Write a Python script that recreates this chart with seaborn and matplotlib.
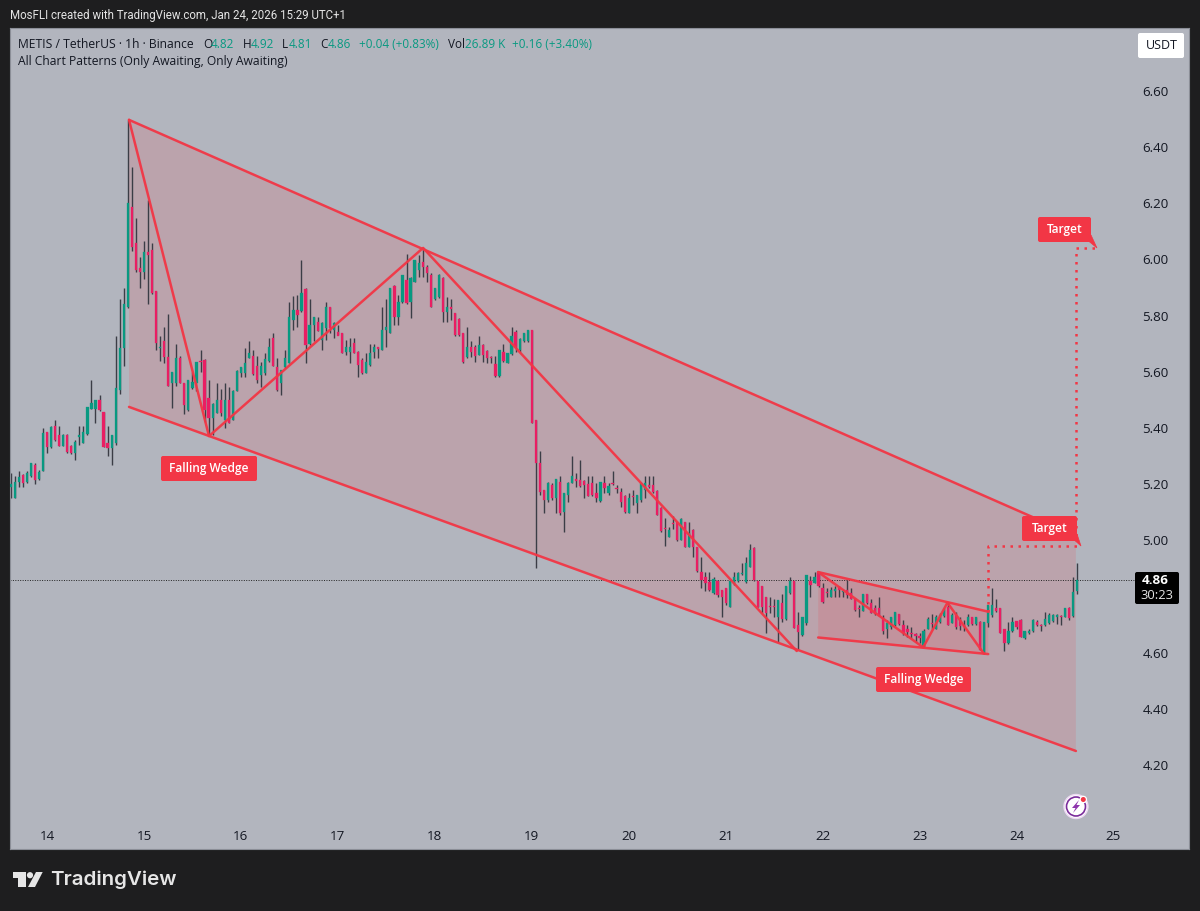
import numpy as np
import seaborn as sns
import matplotlib.pyplot as plt
from matplotlib.patches import FancyBboxPatch, Polygon, Circle

# hourly candles, first one is 9 hours before the 14th
first_hour = -9
opens = [
    5.190,5.150,5.209,5.233,5.209,5.229,5.268,5.217,5.248,5.384,
    5.331,5.407,5.375,5.336,5.375,5.336,5.310,5.369,5.348,5.379,
    5.469,5.469,5.498,5.457,5.348,5.328,5.346,5.536,5.686,5.832,
    6.186,6.058,5.969,5.957,6.028,6.032,5.886,5.684,5.711,5.654,
    5.559,5.559,5.648,5.559,5.464,5.541,5.559,5.640,5.642,5.506,
    5.435,5.452,5.498,5.429,5.500,5.429,5.533,5.595,5.595,5.648,
    5.657,5.619,5.589,5.595,5.640,5.720,5.616,5.559,5.616,5.633,
    5.785,5.820,5.817,5.894,5.699,5.767,5.779,5.713,5.755,5.830,
    5.749,5.743,5.737,5.672,5.672,5.701,5.672,5.642,5.597,5.624,
    5.672,5.687,5.678,5.749,5.737,5.906,5.796,5.850,5.927,5.850,
    5.921,5.963,5.992,5.974,5.945,5.858,5.868,5.933,5.814,5.830,
    5.808,5.787,5.737,5.652,5.687,5.687,5.660,5.695,5.675,5.654,
    5.628,5.585,5.672,5.633,5.663,5.743,5.678,5.711,5.711,5.749,
    5.428,5.274,5.179,5.144,5.197,5.150,5.209,5.102,5.161,5.203,
    5.217,5.215,5.212,5.200,5.205,5.170,5.140,5.203,5.170,5.205,
    5.187,5.173,5.159,5.098,5.158,5.132,5.144,5.179,5.196,5.197,
    5.177,5.114,5.045,5.013,5.063,5.064,5.001,5.066,4.977,5.037,
    4.975,4.886,4.871,4.853,4.811,4.856,4.823,4.829,4.764,4.844,
    4.856,4.880,4.853,4.906,4.971,4.856,4.838,4.797,4.766,4.766,
    4.728,4.776,4.719,4.811,4.856,4.698,4.663,4.704,4.856,4.847,
    4.888,4.829,4.816,4.799,4.821,4.833,4.815,4.823,4.813,4.790,
    4.760,4.749,4.808,4.776,4.758,4.758,4.722,4.683,4.692,4.698,
    4.738,4.698,4.686,4.671,4.665,4.660,4.621,4.686,4.707,4.686,
    4.710,4.730,4.764,4.707,4.734,4.716,4.697,4.698,4.726,4.702,
    4.710,4.600,4.707,4.734,4.758,4.758,4.683,4.633,4.677,4.714,
    4.716,4.651,4.671,4.678,4.710,4.698,4.697,4.704,4.714,4.726,
    4.732,4.726,4.758,4.730,4.820,
]
highs = [
    5.240,5.229,5.248,5.236,5.248,5.277,5.274,5.251,5.399,5.387,
    5.407,5.429,5.407,5.379,5.379,5.340,5.357,5.407,5.407,5.476,
    5.569,5.500,5.518,5.458,5.407,5.375,5.728,5.858,5.898,6.497,
    6.328,6.147,6.010,6.067,6.212,6.058,5.886,5.728,5.759,5.806,
    5.598,5.699,5.657,5.559,5.571,5.598,5.636,5.676,5.645,5.569,
    5.488,5.559,5.538,5.559,5.547,5.536,5.607,5.616,5.684,5.708,
    5.678,5.657,5.636,5.666,5.720,5.737,5.648,5.606,5.678,5.850,
    5.870,5.874,5.998,5.897,5.859,5.796,5.796,5.779,5.850,5.830,
    5.779,5.767,5.737,5.713,5.719,5.719,5.675,5.648,5.666,5.699,
    5.699,5.690,5.830,5.859,5.897,5.909,5.874,5.945,6.020,5.939,
    5.998,6.016,6.036,5.980,5.951,5.897,5.948,5.939,5.868,5.859,
    5.808,5.790,5.737,5.758,5.711,5.695,5.728,5.699,5.678,5.656,
    5.656,5.678,5.699,5.668,5.758,5.749,5.719,5.739,5.749,5.749,
    5.428,5.319,5.179,5.209,5.203,5.217,5.229,5.167,5.209,5.300,
    5.238,5.286,5.215,5.229,5.229,5.203,5.209,5.229,5.205,5.248,
    5.197,5.185,5.161,5.167,5.179,5.161,5.205,5.229,5.229,5.229,
    5.179,5.117,5.078,5.046,5.087,5.066,5.078,5.066,5.066,5.039,
    4.977,4.939,4.888,4.888,4.868,4.859,4.823,4.829,4.856,4.888,
    4.888,4.920,4.939,4.987,4.977,4.856,4.838,4.799,4.799,4.790,
    4.787,4.809,4.838,4.868,4.856,4.746,4.726,4.876,4.873,4.888,
    4.888,4.847,4.829,4.833,4.837,4.837,4.825,4.859,4.829,4.793,
    4.770,4.809,4.809,4.790,4.770,4.799,4.734,4.716,4.728,4.746,
    4.738,4.716,4.698,4.692,4.669,4.669,4.686,4.728,4.738,4.734,
    4.740,4.758,4.781,4.740,4.746,4.728,4.716,4.738,4.728,4.728,
    4.714,4.710,4.770,4.829,4.790,4.758,4.686,4.710,4.728,4.714,
    4.719,4.678,4.683,4.719,4.716,4.702,4.746,4.740,4.738,4.738,
    4.734,4.758,4.761,4.868,4.920,
]
lows = [
    5.150,5.150,5.191,5.191,5.203,5.227,5.201,5.215,5.248,5.310,
    5.328,5.352,5.336,5.336,5.310,5.308,5.286,5.340,5.346,5.375,
    5.467,5.419,5.462,5.331,5.300,5.268,5.340,5.521,5.619,5.826,
    6.030,5.957,5.900,5.930,5.841,5.877,5.678,5.640,5.630,5.550,
    5.470,5.550,5.559,5.450,5.462,5.538,5.530,5.601,5.423,5.372,
    5.375,5.452,5.441,5.399,5.417,5.429,5.530,5.581,5.581,5.648,
    5.589,5.559,5.547,5.589,5.636,5.619,5.530,5.517,5.612,5.630,
    5.749,5.761,5.814,5.630,5.695,5.711,5.747,5.678,5.713,5.737,
    5.719,5.731,5.666,5.660,5.630,5.666,5.583,5.592,5.595,5.621,
    5.648,5.648,5.678,5.690,5.737,5.767,5.767,5.846,5.841,5.790,
    5.921,5.939,5.939,5.921,5.830,5.856,5.862,5.779,5.779,5.785,
    5.728,5.728,5.630,5.648,5.654,5.636,5.660,5.636,5.630,5.630,
    5.583,5.583,5.636,5.630,5.660,5.672,5.672,5.707,5.707,5.419,
    4.900,5.161,5.098,5.138,5.144,5.098,5.090,5.031,5.138,5.203,
    5.191,5.191,5.150,5.158,5.158,5.138,5.138,5.167,5.161,5.197,
    5.170,5.117,5.098,5.096,5.126,5.098,5.138,5.150,5.185,5.167,
    5.090,5.031,4.980,5.011,5.039,4.999,5.001,4.975,4.977,4.942,
    4.888,4.829,4.821,4.821,4.809,4.799,4.728,4.770,4.761,4.841,
    4.853,4.876,4.849,4.904,4.856,4.764,4.740,4.669,4.740,4.728,
    4.639,4.710,4.716,4.809,4.687,4.609,4.659,4.698,4.799,4.847,
    4.835,4.778,4.797,4.797,4.797,4.797,4.799,4.793,4.790,4.749,
    4.728,4.749,4.773,4.740,4.734,4.730,4.666,4.651,4.686,4.695,
    4.698,4.663,4.657,4.651,4.639,4.633,4.621,4.683,4.686,4.686,
    4.707,4.728,4.698,4.704,4.686,4.681,4.678,4.695,4.698,4.698,
    4.609,4.597,4.690,4.726,4.746,4.669,4.607,4.631,4.675,4.686,
    4.657,4.647,4.666,4.675,4.695,4.678,4.695,4.702,4.710,4.702,
    4.698,4.726,4.716,4.728,4.810,
]
closes = [
    5.200,5.209,5.227,5.203,5.239,5.274,5.215,5.245,5.381,5.334,
    5.405,5.357,5.336,5.375,5.316,5.310,5.351,5.375,5.387,5.474,
    5.488,5.498,5.464,5.334,5.328,5.375,5.541,5.686,5.841,6.200,
    6.046,5.963,5.955,6.028,6.016,5.880,5.704,5.690,5.654,5.550,
    5.598,5.648,5.559,5.482,5.569,5.565,5.636,5.636,5.464,5.435,
    5.486,5.498,5.452,5.498,5.417,5.533,5.604,5.616,5.630,5.666,
    5.593,5.571,5.621,5.645,5.690,5.621,5.536,5.606,5.648,5.794,
    5.820,5.802,5.879,5.695,5.767,5.794,5.747,5.775,5.830,5.755,
    5.773,5.728,5.666,5.690,5.687,5.668,5.624,5.595,5.636,5.666,
    5.690,5.680,5.749,5.761,5.897,5.796,5.850,5.945,5.844,5.933,
    5.998,5.986,5.974,5.951,5.832,5.897,5.945,5.814,5.832,5.822,
    5.731,5.730,5.636,5.687,5.672,5.656,5.695,5.660,5.648,5.648,
    5.585,5.678,5.640,5.666,5.728,5.690,5.716,5.737,5.749,5.419,
    5.274,5.173,5.144,5.203,5.150,5.217,5.096,5.167,5.205,5.229,
    5.210,5.193,5.197,5.158,5.161,5.150,5.206,5.185,5.193,5.200,
    5.183,5.138,5.102,5.150,5.153,5.161,5.203,5.203,5.191,5.173,
    5.090,5.034,5.040,5.037,5.058,5.001,5.076,4.977,5.025,4.977,
    4.892,4.859,4.847,4.823,4.861,4.805,4.799,4.776,4.856,4.871,
    4.882,4.885,4.920,4.966,4.859,4.764,4.761,4.742,4.761,4.761,
    4.787,4.719,4.838,4.856,4.687,4.675,4.726,4.876,4.841,4.871,
    4.837,4.781,4.811,4.823,4.825,4.823,4.819,4.805,4.790,4.752,
    4.754,4.809,4.776,4.740,4.738,4.730,4.678,4.704,4.726,4.746,
    4.702,4.669,4.675,4.666,4.660,4.652,4.678,4.719,4.702,4.728,
    4.734,4.752,4.698,4.734,4.692,4.695,4.692,4.726,4.702,4.726,
    4.609,4.708,4.770,4.770,4.749,4.671,4.633,4.678,4.710,4.692,
    4.657,4.678,4.678,4.716,4.698,4.695,4.719,4.734,4.734,4.734,
    4.726,4.758,4.722,4.817,4.860,
]

# pattern drawings, (hours, price)
big_upper_x, big_upper_y = [20.3, 254.7], [6.497, 5.015]
big_lower_x, big_lower_y = [20.3, 254.7], [5.475, 4.250]
big_zigzag_x = [20.3, 40.1, 93.1, 185.6]
big_zigzag_y = [6.497, 5.371, 6.041, 4.606]
small_upper_x, small_upper_y = [190.9, 233.0], [4.887, 4.746]
small_lower_x, small_lower_y = [190.9, 233.0], [4.654, 4.595]
small_zigzag_x = [190.9, 216.9, 222.9, 231.9]
small_zigzag_y = [4.887, 4.619, 4.778, 4.597]
target_small_x, target_small_y = [233.0, 233.0, 255.9], [4.746, 4.981, 4.981]
target_big_x, target_big_y = [254.7, 254.7, 259.8], [5.015, 6.042, 6.042]
last_price = 4.86

day_labels = [14, 15, 16, 17, 18, 19, 20, 21, 22, 23, 24, 25]
price_ticks = [4.2, 4.4, 4.6, 5.0, 5.2, 5.4, 5.6, 5.8, 6.0, 6.2, 6.4, 6.6]

BG = '#1e1e1f'
PANE = '#b2b5be'
GREEN = '#089981'
PINK = '#e91e63'
WICK = '#3b3d46'
RED = '#f23645'
TEXT = '#131722'
FONT = 'Open Sans'

sns.set_theme(style='white')
plt.rcParams['font.family'] = [FONT, 'DejaVu Sans']

W, H = 1200, 911
fig = plt.figure(figsize=(W / 100, H / 100), dpi=100, facecolor=BG)
ax = fig.add_axes([10 / W, (H - 849) / H, 1179 / W, 821 / H], facecolor=PANE)

hours = np.arange(first_hour, first_hour + len(opens))
o, h, l, c = map(np.array, (opens, highs, lows, closes))

# shaded wedges
ax.fill(big_upper_x + big_lower_x[::-1], big_upper_y + big_lower_y[::-1],
        color=RED, alpha=0.14, lw=0, zorder=1)
ax.fill(small_upper_x + small_lower_x[::-1], small_upper_y + small_lower_y[::-1],
        color=RED, alpha=0.14, lw=0, zorder=1)

# last price line, stops at the price box
ax.hlines(last_price, -9.16, 270, color='#222222', lw=0.7, ls=(0, (1, 1.5)), zorder=1.5)

# candles
ax.vlines(hours, l, h, color=WICK, lw=1.0, zorder=2)
up = c >= o
ax.bar(hours[up], (c - o)[up], bottom=o[up], width=0.55, color=GREEN,
       edgecolor=GREEN, lw=0.2, zorder=3)
ax.bar(hours[~up], (o - c)[~up], bottom=c[~up], width=0.55, color=PINK,
       edgecolor=PINK, lw=0.2, zorder=3)

# wedge lines
for xs, ys in [(big_upper_x, big_upper_y), (big_lower_x, big_lower_y),
               (big_zigzag_x, big_zigzag_y), (small_upper_x, small_upper_y),
               (small_lower_x, small_lower_y), (small_zigzag_x, small_zigzag_y)]:
    sns.lineplot(x=xs, y=ys, color=RED, lw=1.8, alpha=0.95, sort=False,
                 estimator=None, legend=False, ax=ax, zorder=4)
for xs, ys in [(target_small_x, target_small_y), (target_big_x, target_big_y)]:
    sns.lineplot(x=xs, y=ys, color=RED, lw=1.8, sort=False, estimator=None,
                 legend=False, ax=ax, zorder=4, linestyle=(0, (1, 2.2)))

ax.set_xlim(-9.16, 282.7)
ax.set_ylim(3.901, 6.824)
ax.set_xlabel('')
ax.set_ylabel('')
ax.set_xticks([(d - 14) * 24 for d in day_labels], labels=day_labels)
ax.set_yticks(price_ticks, labels=[f'{p:.2f}' for p in price_ticks])
ax.yaxis.tick_right()
ax.tick_params(axis='x', length=0, pad=-13.5, labelsize=9.6, labelcolor=TEXT)
ax.tick_params(axis='y', length=0, pad=-33.5, labelsize=9.6, labelcolor=TEXT)
for s in ax.spines.values():
    s.set_color('#8b8e97')
    s.set_linewidth(0.8)

# overlay in pixels for labels and the TradingView furniture
over = fig.add_axes([0, 0, 1, 1], facecolor='none')
over.set_xlim(0, W)
over.set_ylim(H, 0)
over.axis('off')


def box(x0, y0, x1, y1, color, z=6):
    over.add_patch(FancyBboxPatch((x0 + 2, y0 + 2), x1 - x0 - 4, y1 - y0 - 4,
                                  boxstyle='round,pad=2,rounding_size=2',
                                  fc=color, ec=color, lw=0, zorder=z))


def tag(x0, y0, x1, y1, text, tail=None):
    box(x0, y0, x1, y1, RED)
    if tail:
        over.add_patch(Polygon(tail, fc=RED, ec=RED, lw=0.5, zorder=6))
    over.text((x0 + x1) / 2, (y0 + y1) / 2, text, color='white', fontsize=8.6,
              fontweight='semibold', ha='center', va='center', zorder=7)


tag(161, 456, 257, 481, 'Falling Wedge')
tag(876, 667, 971, 692, 'Falling Wedge')
tag(1022, 516, 1077, 541, 'Target', [(1072, 538), (1077, 534), (1081, 546)])
tag(1038, 217, 1091, 242, 'Target', [(1086, 239), (1091, 235), (1097, 248)])

over.text(10, 15.5, 'MosFLI created with TradingView.com, Jan 24, 2026 15:29 UTC+1',
          color='#e4e4e4', fontsize=8.3, family='Roboto', va='center')
over.text(18, 44.5, 'METIS / TetherUS · 1h · Binance', color=TEXT, fontsize=8.7, va='center')
legend_bits = [(203, 'O', TEXT), (211, '4.82', GREEN), (243, 'H', TEXT), (251, '4.92', GREEN),
               (282, 'L', TEXT), (289, '4.81', GREEN), (320, 'C', TEXT), (328, '4.86', GREEN),
               (359, '+0.04 (+0.83%)', GREEN), (448, 'Vol', TEXT), (465, '26.89 K', GREEN),
               (512, '+0.16 (+3.40%)', GREEN)]
for x, s, col in legend_bits:
    over.text(x, 44.5, s, color=col, fontsize=8.5, va='center')
over.text(18, 62, 'All Chart Patterns (Only Awaiting, Only Awaiting)', color=TEXT,
          fontsize=8.75, va='center')

# scale button and last price box
box(1138, 33, 1184, 58, 'white')
over.text(1161.5, 45.5, 'USDT', color=TEXT, fontsize=9, ha='center', va='center', zorder=7)
box(1135, 572, 1179, 604, '#000000')
over.text(1155, 581, '4.86', color='white', fontsize=9.6, fontweight='bold',
          ha='center', va='center', zorder=7)
over.text(1157, 595.5, '30:23', color='#e6e6e6', fontsize=9.3, ha='center', va='center', zorder=7)

# lightning icon
over.add_patch(Circle((1076, 806.5), 12, fc='white', ec='#ecd9f2', lw=1, zorder=6))
over.add_patch(Circle((1076, 806.5), 9.5, fc='white', ec='#7b2d9b', lw=1.2, zorder=6))
over.add_patch(Polygon([(1079, 800), (1072, 808), (1075.5, 808), (1073, 813),
                        (1080, 805), (1076.5, 805)], fc='#8e35ad', lw=0, zorder=7))
over.add_patch(Circle((1083.3, 799.5), 3.8, fc='white', lw=0, zorder=7))
over.add_patch(Circle((1083.3, 799.5), 2.5, fc=RED, lw=0, zorder=8))

# TradingView logo
LOGO = '#e6e6e6'
over.add_patch(Polygon([(12.7, 872), (26, 872), (26, 887), (17.5, 887), (17.5, 878), (12.7, 878)],
                       fc=LOGO, lw=0))
over.add_patch(Circle((30, 875.2), 3.1, fc=LOGO, lw=0))
over.add_patch(Polygon([(36, 872), (42.7, 872), (35, 887), (28, 887)], fc=LOGO, lw=0))
over.text(50, 880, 'TradingView', color=LOGO, fontsize=14.8, fontweight='semibold',
          family='Inter', va='center')

fig.savefig('out.png', dpi=100, facecolor=BG)
